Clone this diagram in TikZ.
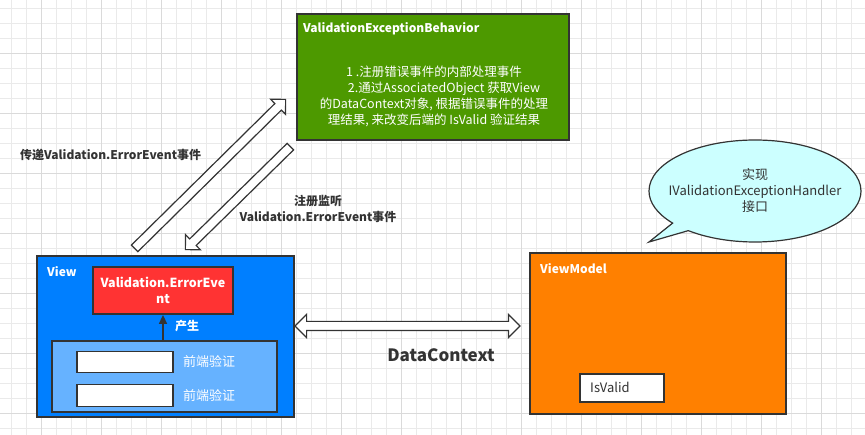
\documentclass[tikz,border=0pt]{standalone}
\usepackage{fontspec}
\setmainfont{Noto Sans CJK SC}
\usetikzlibrary{shapes.arrows,shapes.callouts,calc,arrows.meta,positioning}
\definecolor{ink}{HTML}{333333}
\definecolor{behgreen}{HTML}{4D9900}
\definecolor{viewblue}{HTML}{007FFF}
\definecolor{lightblue}{HTML}{66B2FF}
\definecolor{evred}{HTML}{FF3333}
\definecolor{vmorange}{HTML}{FF8000}
\definecolor{bubblecyan}{HTML}{CCFFFF}
\definecolor{gridminor}{HTML}{EAEAEA}
\definecolor{gridmajor}{HTML}{DADADA}
\newcommand\blockarrow[3]{\path let \p1=($(#3)-(#2)$), \n1={atan2(\y1,\x1)}, \n2={veclen(\x1,\y1)} in
  node[#1,minimum height=\n2,rotate=\n1] at ($(#2)!0.5!(#3)$) {};}

\begin{document}
\begin{tikzpicture}[x=1pt,y=-1pt,
  box/.style={draw=ink,line width=1.8pt,inner sep=0pt},
  boxtitle/.style={anchor=west,inner sep=0pt,text=white,font=\bfseries\fontsize{12}{14}\selectfont},
  note/.style={inner sep=0pt,text=ink,font=\bfseries\fontsize{12}{16}\selectfont,align=center},
  fatarrow/.style={single arrow,draw=ink,fill=white,line width=1.2pt,inner sep=4pt,single arrow head extend=6pt},
  dblarrow/.style={double arrow,draw=ink,fill=white,line width=1.2pt,inner sep=4pt,double arrow head extend=7pt}]
  \useasboundingbox (0,0) rectangle (865,435);
  \fill[white] (0,0) rectangle (865,435);
  \foreach \x in {11.7,26.7,...,865} \draw[gridminor,line width=0.8pt] (\x,0) -- (\x,435);
  \foreach \y in {8.3,23.3,...,435} \draw[gridminor,line width=0.8pt] (0,\y) -- (865,\y);
  \foreach \x in {41.7,101.7,...,865} \draw[gridmajor,line width=0.8pt] (\x,0) -- (\x,435);
  \foreach \y in {53.3,113.3,...,435} \draw[gridmajor,line width=0.8pt] (0,\y) -- (865,\y);

  \node[box,fill=behgreen,minimum width=272,minimum height=126] (beh) at (433,77) {};
  \node[boxtitle] (behtitle) at (303,29) {ValidationExceptionBehavior};
  \node[inner sep=0pt,text=white,align=center,font=\fontsize{12.5}{16}\selectfont] (behtext) at (434,96)
    {1 .注册错误事件的内部处理事件\\\hspace*{20pt}2.通过AssociatedObject 获取View\\的DataContext对象, 根据错误事件的处理\\理结果, 来改变后端的 IsValid 验证结果};

  \node[box,fill=viewblue,minimum width=257,minimum height=161] (view) at (165.5,336.5) {};
  \node[boxtitle] (viewtitle) at (47,272) {View};
  \node[box,fill=evred,minimum width=140,minimum height=47,text=white,align=center,
    font=\bfseries\fontsize{12.5}{16}\selectfont] (event) at (163,290.5) {Validation.ErrorEve\\nt};
  \node[box,fill=lightblue,minimum width=225,minimum height=71] (front) at (164.5,376.5) {};
  \node[box,fill=white,minimum width=96,minimum height=21] (input1) at (125,362) {};
  \node[box,fill=white,minimum width=96,minimum height=22] (input2) at (125,395.5) {};
  \node[anchor=west,inner sep=0pt,text=white,font=\fontsize{13}{15}\selectfont] (check1) at (183,362) {前端验证};
  \node[anchor=west,inner sep=0pt,text=white,font=\fontsize{13}{15}\selectfont] (check2) at (183,396) {前端验证};
  \draw[ink,line width=1.5pt,-{Triangle[length=9pt,width=8pt]}] (event.south |- front.north) -- (event.south);
  \node[boxtitle] (produce) at (175,326) {产生};

  \node[box,fill=vmorange,minimum width=256,minimum height=161] (vm) at (658,333.5) {};
  \node[boxtitle] (vmtitle) at (540,269) {ViewModel};
  \node[box,fill=white,minimum width=84,minimum height=28] (isvalid) at (622,388) {};
  \node[anchor=west,inner sep=0pt,text=ink,font=\fontsize{13}{15}\selectfont] (isvalidtext) at (590,387) {IsValid};

  \node[ellipse callout,draw=ink,fill=bubblecyan,line width=1.2pt,minimum width=212,minimum height=102,
    inner sep=0pt,callout absolute pointer={(649,242)},callout pointer arc=12] (bubble) at (755,191) {};
  \node[inner sep=0pt,text=ink,align=center,font=\fontsize{13}{16}\selectfont] (bubbletext) at (bubble.center)
    {实现\\IValidationExceptionHandler\\接口};

  \coordinate (passtail) at (133,250);
  \coordinate (passhead) at (284,101);
  \coordinate (regtail) at (292,145);
  \coordinate (reghead) at (187,248);
  \coordinate (dcl) at (295,326);
  \coordinate (dcr) at (520,326);
  \blockarrow{fatarrow}{passtail}{passhead}
  \blockarrow{fatarrow}{regtail}{reghead}
  \blockarrow{dblarrow}{dcl}{dcr}

  \node[note,anchor=west] (passlabel) at (20,155) {传递Validation.ErrorEvent事件};
  \node[note] (reglabel) at (318,208.5) {注册监听\\Validation.ErrorEvent事件};
  \node[note,font=\bfseries\fontsize{17}{20}\selectfont] (dclabel) at (441,355) {DataContext};
\end{tikzpicture}
\end{document}
